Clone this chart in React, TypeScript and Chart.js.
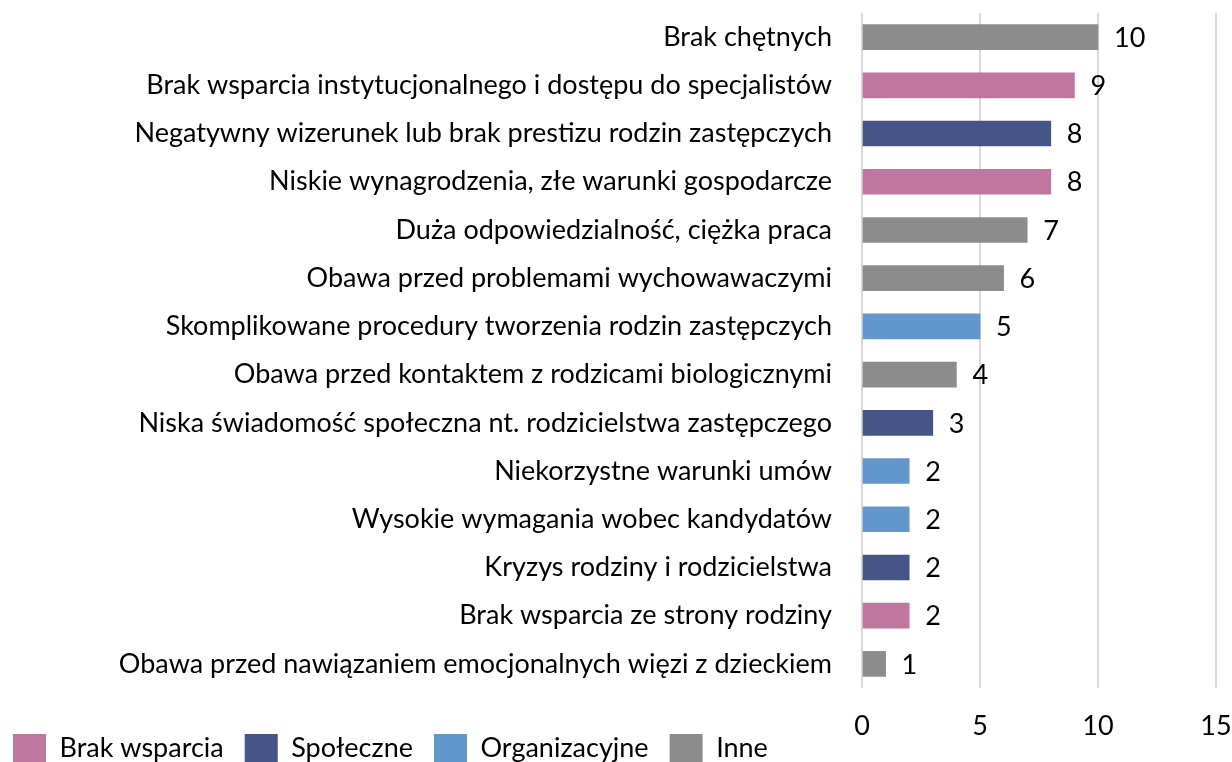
import React, { useEffect, useRef } from "react";
import { Chart, registerables } from "chart.js";

Chart.register(...registerables);

const categories = [
  "Brak chętnych",
  "Brak wsparcia instytucjonalnego i dostępu do specjalistów",
  "Negatywny wizerunek lub brak prestizu rodzin zastępczych",
  "Niskie wynagrodzenia, złe warunki gospodarcze",
  "Duża odpowiedzialność, ciężka praca",
  "Obawa przed problemami wychowawaczymi",
  "Skomplikowane procedury tworzenia rodzin zastępczych",
  "Obawa przed kontaktem z rodzicami biologicznymi",
  "Niska świadomość społeczna nt. rodzicielstwa zastępczego",
  "Niekorzystne warunki umów",
  "Wysokie wymagania wobec kandydatów",
  "Kryzys rodziny i rodzicielstwa",
  "Brak wsparcia ze strony rodziny",
  "Obawa przed nawiązaniem emocjonalnych więzi z dzieckiem",
];

const values = [10, 9, 8, 8, 7, 6, 5, 4, 3, 2, 2, 2, 2, 1];

const groups = [
  "Inne",
  "Brak wsparcia",
  "Społeczne",
  "Brak wsparcia",
  "Inne",
  "Inne",
  "Organizacyjne",
  "Inne",
  "Społeczne",
  "Organizacyjne",
  "Organizacyjne",
  "Społeczne",
  "Brak wsparcia",
  "Inne",
];

const groupNames = ["Brak wsparcia", "Społeczne", "Organizacyjne", "Inne"];
const groupColors = ["#C0779F", "#465588", "#6297CE", "#8C8C8C"];

const xMin = 0;
const xMax = 15;
const xStep = 5;

const FONT = "Lato";
const FONT_SIZE = 27;

const valueLabels = {
  id: "valueLabels",
  afterDatasetsDraw(chart: any) {
    const ctx = chart.ctx;
    ctx.save();
    ctx.font = `${FONT_SIZE}px ${FONT}`;
    ctx.fillStyle = "#000";
    ctx.textAlign = "left";
    ctx.textBaseline = "middle";
    chart.data.datasets.forEach((ds: any, di: number) => {
      const meta = chart.getDatasetMeta(di);
      meta.data.forEach((el: any, i: number) => {
        const v = ds.data[i];
        if (v == null) return;
        ctx.fillText(String(v), el.x + 16, el.y + 1);
      });
    });
    ctx.restore();
  },
};

const legendPlacer = {
  id: "legendPlacer",
  afterLayout(chart: any) {
    const lg = chart.legend;
    if (!lg) return;
    const h = lg.bottom - lg.top;
    lg.left = -8;
    lg.top = 713;
    lg.bottom = 713 + h;
  },
};

export default function App() {
  const ref = useRef<HTMLCanvasElement | null>(null);

  useEffect(() => {
    if (!ref.current) return;
    const datasets = groupNames.map((g, gi) => ({
      label: g,
      data: values.map((v, i) => (groups[i] === g ? v : null)),
      backgroundColor: groupColors[gi],
      borderWidth: 0,
      barThickness: 25,
    }));
    const chart = new Chart(ref.current, {
      type: "bar",
      data: { labels: categories, datasets },
      plugins: [valueLabels, legendPlacer],
      options: {
        indexAxis: "y",
        animation: false,
        responsive: false,
        maintainAspectRatio: false,
        layout: { padding: { top: 13, right: 16, left: 0, bottom: 0 } },
        plugins: {
          tooltip: { enabled: false },
          legend: {
            display: true,
            position: "bottom",
            align: "start",
            labels: {
              boxWidth: 33,
              boxHeight: 28,
              padding: 21,
              color: "#000",
              font: { family: FONT, size: FONT_SIZE },
            },
          },
        },
        scales: {
          x: {
            stacked: true,
            min: xMin,
            max: xMax,
            ticks: {
              stepSize: xStep,
              color: "#000",
              font: { family: FONT, size: FONT_SIZE },
              padding: 22,
              maxRotation: 0,
            },
            grid: { color: "#D9D9D9", lineWidth: 2, drawTicks: false },
            border: { display: false },
            afterFit: (s: any) => {
              s.height = 60;
              s.paddingLeft = 0;
              s.paddingRight = 0;
            },
          },
          y: {
            stacked: true,
            ticks: {
              color: "#000",
              font: { family: FONT, size: FONT_SIZE },
              padding: 30,
              autoSkip: false,
            },
            grid: { display: false, drawTicks: false },
            border: { display: false },
            afterFit: (s: any) => {
              s.width = 862;
              s.paddingTop = 0;
              s.paddingBottom = 0;
            },
          },
        },
      },
    });
    return () => chart.destroy();
  }, []);

  return (
    <div
      style={{
        position: "fixed",
        left: 0,
        top: 0,
        width: 1232,
        height: 762,
        overflow: "hidden",
        background: "#fff",
      }}
    >
      <canvas
        ref={ref}
        width={1232}
        height={807}
        style={{ position: "absolute", left: 0, top: 0, width: 1232, height: 807 }}
      />
    </div>
  );
}
